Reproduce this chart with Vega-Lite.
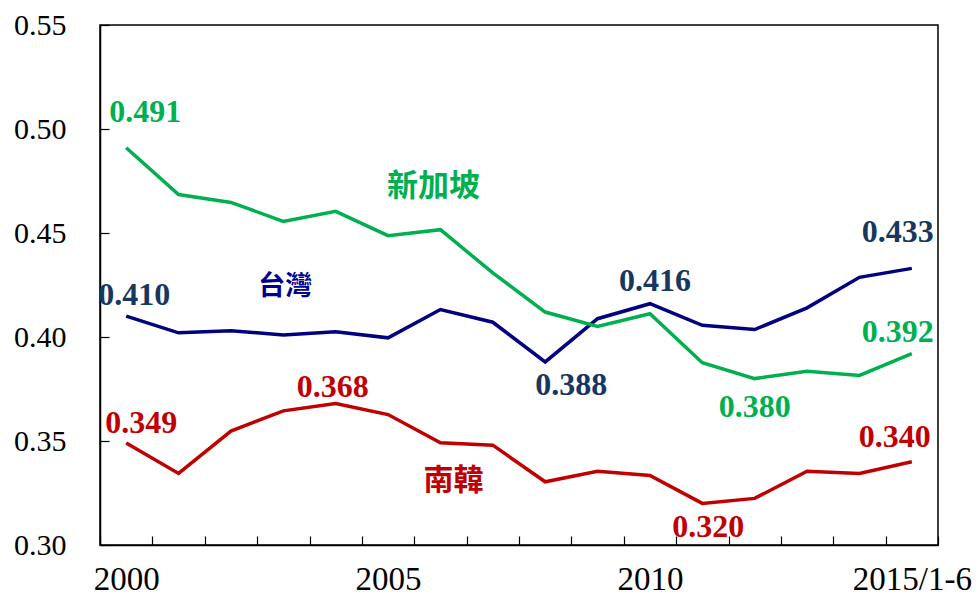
{
  "$schema": "https://vega.github.io/schema/vega-lite/v6.json",
  "autosize": {"type": "none"},
  "width": 838,
  "height": 520,
  "padding": {"left": 100, "top": 25, "right": 40, "bottom": 50},
  "background": "white",
  "config": {
    "view": {"stroke": "#000", "strokeWidth": 1.5},
    "axis": {"grid": false, "domainColor": "#000", "domainWidth": 1.5, "tickColor": "#000", "tickWidth": 1.2, "labelColor": "#000", "labelFont": "Liberation Serif", "labelFontSize": 30}
  },
  "datasets": {
    "main": [
      {"year": "2000", "series": "台灣", "v": 0.410}, {"year": "2001", "series": "台灣", "v": 0.402}, {"year": "2002", "series": "台灣", "v": 0.403}, {"year": "2003", "series": "台灣", "v": 0.401}, {"year": "2004", "series": "台灣", "v": 0.4025}, {"year": "2005", "series": "台灣", "v": 0.3996}, {"year": "2006", "series": "台灣", "v": 0.4132}, {"year": "2007", "series": "台灣", "v": 0.4071}, {"year": "2008", "series": "台灣", "v": 0.388}, {"year": "2009", "series": "台灣", "v": 0.4088}, {"year": "2010", "series": "台灣", "v": 0.416}, {"year": "2011", "series": "台灣", "v": 0.4056}, {"year": "2012", "series": "台灣", "v": 0.4036}, {"year": "2013", "series": "台灣", "v": 0.414}, {"year": "2014", "series": "台灣", "v": 0.4287}, {"year": "2015/1-6", "series": "台灣", "v": 0.433},
      {"year": "2000", "series": "新加坡", "v": 0.491}, {"year": "2001", "series": "新加坡", "v": 0.4685}, {"year": "2002", "series": "新加坡", "v": 0.4647}, {"year": "2003", "series": "新加坡", "v": 0.4556}, {"year": "2004", "series": "新加坡", "v": 0.4604}, {"year": "2005", "series": "新加坡", "v": 0.4487}, {"year": "2006", "series": "新加坡", "v": 0.4516}, {"year": "2007", "series": "新加坡", "v": 0.4308}, {"year": "2008", "series": "新加坡", "v": 0.412}, {"year": "2009", "series": "新加坡", "v": 0.4051}, {"year": "2010", "series": "新加坡", "v": 0.4112}, {"year": "2011", "series": "新加坡", "v": 0.3876}, {"year": "2012", "series": "新加坡", "v": 0.380}, {"year": "2013", "series": "新加坡", "v": 0.3835}, {"year": "2014", "series": "新加坡", "v": 0.3815}, {"year": "2015/1-6", "series": "新加坡", "v": 0.392},
      {"year": "2000", "series": "南韓", "v": 0.349}, {"year": "2001", "series": "南韓", "v": 0.3344}, {"year": "2002", "series": "南韓", "v": 0.3548}, {"year": "2003", "series": "南韓", "v": 0.3645}, {"year": "2004", "series": "南韓", "v": 0.368}, {"year": "2005", "series": "南韓", "v": 0.3627}, {"year": "2006", "series": "南韓", "v": 0.3491}, {"year": "2007", "series": "南韓", "v": 0.348}, {"year": "2008", "series": "南韓", "v": 0.3304}, {"year": "2009", "series": "南韓", "v": 0.3355}, {"year": "2010", "series": "南韓", "v": 0.3334}, {"year": "2011", "series": "南韓", "v": 0.320}, {"year": "2012", "series": "南韓", "v": 0.3224}, {"year": "2013", "series": "南韓", "v": 0.3355}, {"year": "2014", "series": "南韓", "v": 0.3344}, {"year": "2015/1-6", "series": "南韓", "v": 0.340}
    ]
  },
  "encoding": {
    "x": {"field": "year", "type": "ordinal", "sort": null,
      "scale": {"type": "band", "paddingInner": 0, "paddingOuter": 0, "domain": ["2000","2001","2002","2003","2004","2005","2006","2007","2008","2009","2010","2011","2012","2013","2014","2015/1-6"]},
      "axis": {"title": null, "labelAngle": 0, "tickBand": "extent", "tickSize": -9, "labelPadding": 27, "labelFontSize": 33, "labelOverlap": false,
        "labelExpr": "indexof(['2000','2005','2010','2015/1-6'], datum.value) >= 0 ? datum.value : ''"}},
    "y": {"field": "v", "type": "quantitative",
      "scale": {"domain": [0.30, 0.55], "nice": false, "zero": false},
      "axis": {"title": null, "values": [0.30, 0.35, 0.40, 0.45, 0.50, 0.55], "format": ".2f", "tickSize": -9, "labelPadding": 43}}
  },
  "layer": [
    {"data": {"name": "main"}, "mark": {"type": "line", "strokeWidth": 3.5, "strokeJoin": "miter"},
      "encoding": {"color": {"field": "series", "type": "nominal", "legend": null,
        "scale": {"domain": ["新加坡", "台灣", "南韓"], "range": ["#00B050", "#000080", "#C00000"]}}}},
    {"data": {"values": [{"year": "2000", "v": 0.5083, "t": "0.491"}]}, "mark": {"type": "text", "font": "Liberation Serif", "fontWeight": "bold", "fontSize": 32, "baseline": "middle", "color": "#00B050", "dx": 19}, "encoding": {"text": {"field": "t"}}},
    {"data": {"values": [{"year": "2012", "v": 0.3663, "t": "0.380"}]}, "mark": {"type": "text", "font": "Liberation Serif", "fontWeight": "bold", "fontSize": 32, "baseline": "middle", "color": "#00B050", "dx": 0}, "encoding": {"text": {"field": "t"}}},
    {"data": {"values": [{"year": "2015/1-6", "v": 0.4024, "t": "0.392"}]}, "mark": {"type": "text", "font": "Liberation Serif", "fontWeight": "bold", "fontSize": 32, "baseline": "middle", "color": "#00B050", "dx": -14}, "encoding": {"text": {"field": "t"}}},
    {"data": {"values": [{"year": "2000", "v": 0.4203, "t": "0.410"}]}, "mark": {"type": "text", "font": "Liberation Serif", "fontWeight": "bold", "fontSize": 32, "baseline": "middle", "color": "#17375E", "dx": 8}, "encoding": {"text": {"field": "t"}}},
    {"data": {"values": [{"year": "2008", "v": 0.3771, "t": "0.388"}]}, "mark": {"type": "text", "font": "Liberation Serif", "fontWeight": "bold", "fontSize": 32, "baseline": "middle", "color": "#17375E", "dx": 26}, "encoding": {"text": {"field": "t"}}},
    {"data": {"values": [{"year": "2010", "v": 0.4271, "t": "0.416"}]}, "mark": {"type": "text", "font": "Liberation Serif", "fontWeight": "bold", "fontSize": 32, "baseline": "middle", "color": "#17375E", "dx": 5}, "encoding": {"text": {"field": "t"}}},
    {"data": {"values": [{"year": "2015/1-6", "v": 0.4506, "t": "0.433"}]}, "mark": {"type": "text", "font": "Liberation Serif", "fontWeight": "bold", "fontSize": 32, "baseline": "middle", "color": "#17375E", "dx": -14}, "encoding": {"text": {"field": "t"}}},
    {"data": {"values": [{"year": "2000", "v": 0.3586, "t": "0.349"}]}, "mark": {"type": "text", "font": "Liberation Serif", "fontWeight": "bold", "fontSize": 32, "baseline": "middle", "color": "#C00000", "dx": 15}, "encoding": {"text": {"field": "t"}}},
    {"data": {"values": [{"year": "2004", "v": 0.3762, "t": "0.368"}]}, "mark": {"type": "text", "font": "Liberation Serif", "fontWeight": "bold", "fontSize": 32, "baseline": "middle", "color": "#C00000", "dx": -3}, "encoding": {"text": {"field": "t"}}},
    {"data": {"values": [{"year": "2011", "v": 0.3087, "t": "0.320"}]}, "mark": {"type": "text", "font": "Liberation Serif", "fontWeight": "bold", "fontSize": 32, "baseline": "middle", "color": "#C00000", "dx": 6}, "encoding": {"text": {"field": "t"}}},
    {"data": {"values": [{"year": "2015/1-6", "v": 0.3519, "t": "0.340"}]}, "mark": {"type": "text", "font": "Liberation Serif", "fontWeight": "bold", "fontSize": 32, "baseline": "middle", "color": "#C00000", "dx": -17}, "encoding": {"text": {"field": "t"}}},
    {"data": {"values": [{"year": "2006", "v": 0.472, "t": "新加坡"}]}, "mark": {"type": "text", "font": "Noto Sans CJK TC", "fontWeight": "bold", "fontSize": 31, "baseline": "middle", "color": "#00B050", "dx": -7}, "encoding": {"text": {"field": "t"}}},
    {"data": {"values": [{"year": "2003", "v": 0.4242, "t": "台灣"}]}, "mark": {"type": "text", "font": "Noto Sans CJK TC", "fontWeight": "bold", "fontSize": 27, "baseline": "middle", "color": "#000090", "dx": 2}, "encoding": {"text": {"field": "t"}}},
    {"data": {"values": [{"year": "2006", "v": 0.3307, "t": "南韓"}]}, "mark": {"type": "text", "font": "Noto Sans CJK TC", "fontWeight": "bold", "fontSize": 30, "baseline": "middle", "color": "#C00000", "dx": 13}, "encoding": {"text": {"field": "t"}}}
  ]
}
